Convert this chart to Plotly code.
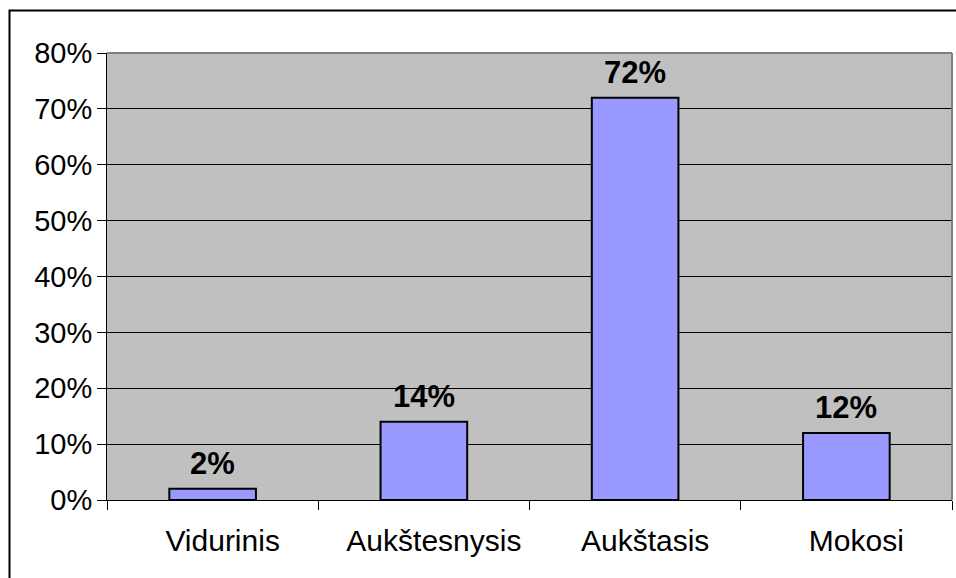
import plotly.graph_objects as go

categories = ["Vidurinis", "Aukštesnysis", "Aukštasis", "Mokosi"]
values = [2, 14, 72, 12]
labels = ["2%", "14%", "72%", "12%"]
y_ticks = [0, 10, 20, 30, 40, 50, 60, 70, 80]
y_tick_text = [f"{v}%" for v in y_ticks]

W, H = 956, 578
ML, MR, MT, MB = 107, 4, 53, 78
PW, PH = W - ML - MR, H - MT - MB

FONT = "Arial, Liberation Sans, sans-serif"

fig = go.Figure()
fig.add_trace(go.Bar(
    x=categories, y=values,
    marker=dict(color="#9999FF", line=dict(color="#000000", width=2)),
    width=0.41,
    hoverinfo="skip",
))

for c, v, t in zip(categories, values, labels):
    fig.add_annotation(
        x=c, y=v, text=f"<b>{t}</b>", showarrow=False,
        xref="x", yref="y", yanchor="bottom", yshift=6,
        font=dict(family=FONT, size=31, color="#000000"),
    )

def px_x(p):
    return (p - ML) / PW

def px_y(p):
    return (H - MB - p) / PH

# outer chart border
fig.add_shape(type="rect", xref="paper", yref="paper",
              x0=px_x(9.5), x1=px_x(962), y0=px_y(10.5), y1=px_y(590),
              line=dict(color="#000000", width=2), layer="above")
# plot area top / right border
fig.add_shape(type="line", xref="paper", yref="paper",
              x0=0, x1=1, y0=1, y1=1,
              line=dict(color="#808080", width=2), layer="above")
fig.add_shape(type="line", xref="paper", yref="paper",
              x0=1, x1=1, y0=0, y1=1,
              line=dict(color="#808080", width=2), layer="above")

fig.update_layout(
    width=W, height=H,
    margin=dict(l=ML, r=MR, t=MT, b=MB),
    paper_bgcolor="#FFFFFF",
    plot_bgcolor="#C0C0C0",
    showlegend=False,
    bargap=0.59,
    font=dict(family=FONT, color="#000000"),
)
fig.update_xaxes(
    type="category",
    tickson="boundaries",
    ticks="outside", ticklen=9, tickcolor="#000000", tickwidth=1,
    showline=True, linecolor="#000000", linewidth=1,
    showgrid=False,
    tickfont=dict(family=FONT, size=30, color="#000000"),
    ticklabelshift=10,
    ticklabelstandoff=14,
)
fig.update_yaxes(
    range=[0, 80],
    tickvals=y_ticks, ticktext=y_tick_text,
    ticks="outside", ticklen=9, tickcolor="#000000", tickwidth=1,
    showline=True, linecolor="#000000", linewidth=1,
    showgrid=True, gridcolor="#000000", gridwidth=1,
    zeroline=False,
    tickfont=dict(family=FONT, size=29, color="#000000"),
    ticklabelstandoff=-1,
)

fig.write_html(
    "out.html",
    config={"displayModeBar": False, "staticPlot": True},
    post_script="document.body.style.margin='0';document.body.style.overflow='hidden';",
)
